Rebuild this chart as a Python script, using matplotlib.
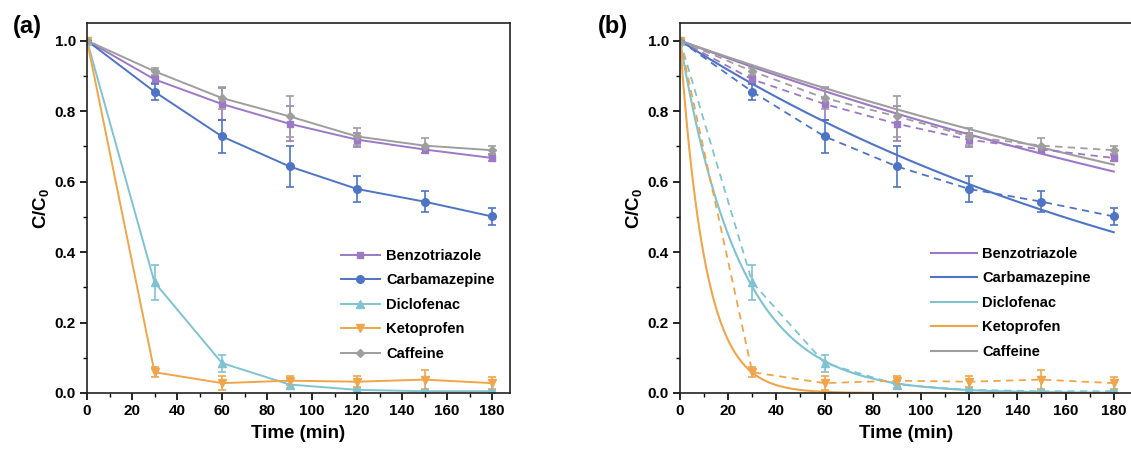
import numpy as np
import matplotlib
matplotlib.use("Agg")
import matplotlib.pyplot as plt

plt.rcParams['font.family'] = ['Liberation Sans', 'DejaVu Sans']
plt.rcParams['font.weight'] = 'bold'
plt.rcParams['mathtext.fontset'] = 'custom'
plt.rcParams['mathtext.rm'] = 'Liberation Sans:bold'
plt.rcParams['mathtext.bf'] = 'Liberation Sans:bold'

# Sampling times (min)
t = [0, 30, 60, 90, 120, 150, 180]

names = ["Benzotriazole", "Carbamazepine", "Diclofenac", "Ketoprofen", "Caffeine"]

# C/C0 (mean) and standard deviation
benzotriazole = [1.0, 0.890, 0.820, 0.764, 0.719, 0.691, 0.667]
benzotriazole_err = [0.0, 0.010, 0.045, 0.050, 0.020, 0.010, 0.010]
carbamazepine = [1.0, 0.855, 0.728, 0.643, 0.579, 0.543, 0.501]
carbamazepine_err = [0.0, 0.023, 0.046, 0.057, 0.036, 0.029, 0.023]
diclofenac = [1.0, 0.314, 0.085, 0.024, 0.009, 0.005, 0.005]
diclofenac_err = [0.0, 0.049, 0.024, 0.010, 0.004, 0.003, 0.003]
ketoprofen = [1.0, 0.059, 0.028, 0.035, 0.032, 0.038, 0.028]
ketoprofen_err = [0.0, 0.014, 0.020, 0.013, 0.015, 0.026, 0.016]
caffeine = [1.0, 0.913, 0.837, 0.785, 0.728, 0.702, 0.689]
caffeine_err = [0.0, 0.010, 0.032, 0.058, 0.024, 0.021, 0.013]

# pseudo-first-order rate constants (1/min) for the fitted curves
k_fit = [0.00258, 0.00436, 0.0400, 0.0950, 0.00241]

means = [benzotriazole, carbamazepine, diclofenac, ketoprofen, caffeine]
errs = [benzotriazole_err, carbamazepine_err, diclofenac_err, ketoprofen_err, caffeine_err]
colors = ["#9c78c6", "#4e74c6", "#7fc3d3", "#f0a54a", "#9e9e9e"]
markers = ["s", "o", "^", "v", "D"]
msizes = [5, 5.5, 5.5, 5.5, 4.5]

W, H = 1131, 453
fig = plt.figure(figsize=(W / 100, H / 100), dpi=100)
ax1 = fig.add_axes([87 / W, 1 - 393 / H, 423 / W, 370 / H])
ax2 = fig.add_axes([680 / W, 1 - 393 / H, 453 / W, 370 / H])


def style_axis(ax):
    ax.set_xlim(0, 188)
    ax.set_ylim(0, 1.05)
    ax.set_xticks(np.arange(0, 181, 20))
    ax.set_xticks(np.arange(0, 181, 10), minor=True)
    ax.set_yticks(np.arange(0, 1.01, 0.2))
    ax.set_yticks(np.arange(0, 1.01, 0.1), minor=True)
    ax.yaxis.set_major_formatter(matplotlib.ticker.FormatStrFormatter('%.1f'))
    ax.tick_params(which='major', direction='out', length=5, width=1.2, labelsize=11, pad=3)
    ax.tick_params(which='minor', direction='out', length=3, width=1.0)
    for s in ax.spines.values():
        s.set_linewidth(1.2)
        s.set_color('#222222')
    ax.set_xlabel("Time (min)", fontsize=13.5, fontweight='bold', labelpad=5)
    ax.set_ylabel("C/C$_0$", fontsize=13.5, fontweight='bold', labelpad=2)


# (a) measured data
handles = []
for y, e, c, m, ms, n in zip(means, errs, colors, markers, msizes, names):
    eb = ax1.errorbar(t, y, yerr=e, color=c, marker=m, markersize=ms, lw=1.4,
                      capsize=3, capthick=1.2, elinewidth=1.2)
    handles.append(eb[0])
style_axis(ax1)
ax1.legend(handles, names, loc='upper left', bbox_to_anchor=(0.60, 0.39), frameon=False,
           fontsize=10.5, handlelength=2.7, handletextpad=0.4, labelspacing=0.72,
           borderpad=0, borderaxespad=0)

# (b) measured data (dashed) with first-order fits (solid)
tt = np.linspace(0, 180, 400)
for y, e, c, m, ms, k, n in zip(means, errs, colors, markers, msizes, k_fit, names):
    ax2.errorbar(t, y, yerr=e, color=c, marker=m, markersize=ms, lw=1.3,
                 ls=(0, (4, 3)), capsize=3, capthick=1.2, elinewidth=1.2)
    ax2.plot(tt, np.exp(-k * tt), color=c, lw=1.5, label=n)
style_axis(ax2)
ax2.legend(loc='upper left', bbox_to_anchor=(0.555, 0.395), frameon=False,
           fontsize=10.5, handlelength=3.1, handletextpad=0.4, labelspacing=0.72,
           borderpad=0, borderaxespad=0)

fig.text(27 / W, 1 - 27 / H, "(a)", fontsize=17, fontweight='bold', ha='center', va='center')
fig.text(613 / W, 1 - 27 / H, "(b)", fontsize=17, fontweight='bold', ha='center', va='center')

fig.savefig("out.png", dpi=100)
